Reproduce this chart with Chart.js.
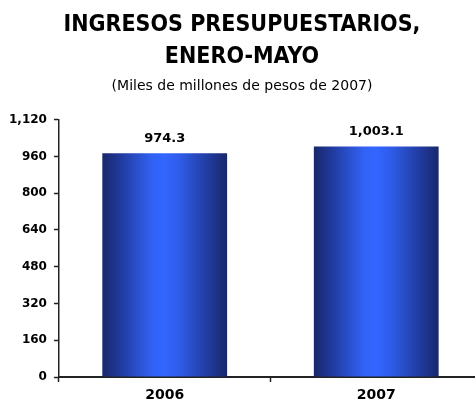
<!DOCTYPE html>
<html>
<head>
<meta charset="utf-8">
<script src="https://cdn.jsdelivr.net/npm/chart.js@4"></script>
<style>
  html, body { margin: 0; padding: 0; background: #fff; overflow: hidden; }
  #wrap { width: 485px; height: 408px; }
</style>
</head>
<body>
<div id="wrap"><canvas id="chart"></canvas></div>
<script>
const anios = ["2006", "2007"];
const ingresos = [974.3, 1003.1];
const etiquetas = ["974.3", "1,003.1"];

const grafico = document.getElementById("chart");

// degradado horizontal de cada barra
function degradado(ctx) {
  const chart = ctx.chart;
  if (!chart.chartArea) return "#2f5ae6";
  const x = chart.scales.x;
  const ancho = (x.getPixelForValue(1) - x.getPixelForValue(0)) * 0.59;
  const centro = x.getPixelForValue(ctx.dataIndex);
  const g = chart.ctx.createLinearGradient(centro - ancho / 2, 0, centro + ancho / 2, 0);
  g.addColorStop(0, "#19286a");
  g.addColorStop(0.12, "#1f3795");
  g.addColorStop(0.4, "#3262f5");
  g.addColorStop(0.5, "#3366ff");
  g.addColorStop(0.62, "#2f5ce8");
  g.addColorStop(0.88, "#1f3795");
  g.addColorStop(1, "#19286a");
  return g;
}

const valores = {
  id: "valores",
  afterDatasetsDraw(chart) {
    const ctx = chart.ctx;
    const meta = chart.getDatasetMeta(0);
    ctx.save();
    ctx.font = "bold 13px 'DejaVu Sans'";
    ctx.fillStyle = "#000";
    ctx.textAlign = "center";
    ctx.textBaseline = "bottom";
    meta.data.forEach(function (bar, i) {
      ctx.fillText(etiquetas[i], bar.x, bar.y - 8);
    });
    ctx.restore();
  },
};

new Chart(grafico, {
  type: "bar",
  data: {
    labels: anios,
    datasets: [
      {
        data: ingresos,
        backgroundColor: degradado,
        borderWidth: 0,
        categoryPercentage: 1,
        barPercentage: 0.59,
      },
    ],
  },
  plugins: [valores],
  options: {
    maintainAspectRatio: false,
    animation: false,
    layout: { padding: { left: 2, right: 3, top: 0, bottom: 0 } },
    plugins: {
      legend: { display: false },
      tooltip: { enabled: false },
      title: {
        display: true,
        text: ["INGRESOS PRESUPUESTARIOS,", "ENERO-MAYO"],
        color: "#000",
        font: { family: "'Liberation Sans Narrow', 'DejaVu Sans Condensed', 'Liberation Sans'", size: 23, weight: "bold", lineHeight: 1.39 },
        padding: { top: 9, bottom: 0 },
      },
      subtitle: {
        display: true,
        text: "(Miles de millones de pesos de 2007)",
        color: "#000",
        font: { family: "'DejaVu Sans'", size: 14 },
        padding: { top: 5, bottom: 25 },
      },
    },
    scales: {
      y: {
        min: 0,
        max: 1120,
        ticks: {
          stepSize: 160,
          color: "#000",
          padding: 7,
          font: { family: "'DejaVu Sans'", size: 12, weight: "bold" },
          callback: function (v) {
            return v.toLocaleString("en-US");
          },
        },
        grid: { drawOnChartArea: false, tickLength: 5, color: "#222", tickWidth: 1.5 },
        border: { color: "#222", width: 1.5 },
      },
      x: {
        ticks: {
          color: "#000",
          padding: 6,
          font: { family: "'DejaVu Sans'", size: 14, weight: "bold", lineHeight: 1 },
        },
        grid: { drawOnChartArea: false, tickLength: 5, color: "#222", tickWidth: 1.5 },
        border: { color: "#222", width: 2 },
      },
    },
  },
});
</script>
</body>
</html>
